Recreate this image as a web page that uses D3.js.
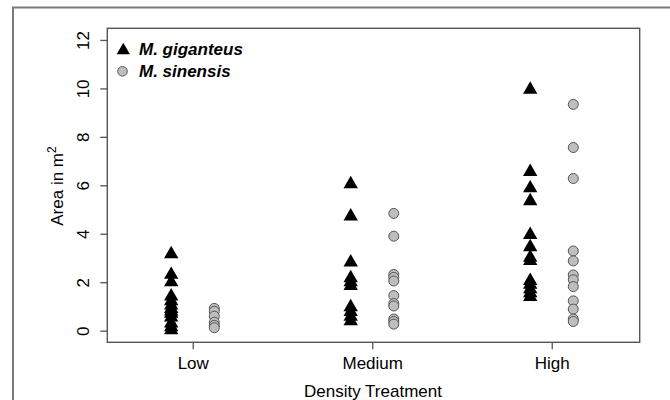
<!DOCTYPE html>
<html>
<head>
<meta charset="utf-8">
<script src="https://cdnjs.cloudflare.com/ajax/libs/d3/7.8.5/d3.min.js"></script>
<style>
  body { margin: 0; background: #fff; }
  text { font-family: "Liberation Sans", Arial, sans-serif; }
</style>
</head>
<body>
<script>
// categories and values
var categories = ["Low", "Medium", "High"];
var yTicks = [0, 2, 4, 6, 8, 10, 12];

var gigLow = [3.16, 2.31, 2.0, 1.42, 1.22, 1.05, 0.9, 0.8, 0.7, 0.55, 0.3, 0.15, 0.02];
var gigMedium = [6.05, 4.72, 2.82, 2.17, 2.0, 1.85, 0.97, 0.78, 0.58, 0.4];
var gigHigh = [9.95, 6.56, 5.88, 5.35, 3.96, 3.45, 3.02, 2.88, 2.06, 1.9, 1.72, 1.55, 1.4];

var sinLow = [0.92, 0.8, 0.6, 0.35, 0.22, 0.12];
var sinMedium = [4.84, 3.9, 2.32, 2.2, 2.05, 1.45, 1.12, 1.02, 0.48, 0.38, 0.27];
var sinHigh = [9.34, 7.56, 6.28, 3.29, 2.88, 2.3, 2.1, 1.82, 1.23, 0.89, 0.48, 0.38];

var width = 670, height = 400;
var plotLeft = 107.3, plotRight = 639.7, plotTop = 28.3, plotBottom = 342.3;
var axisCol = "#555";

var svg = d3.select("body").append("svg")
    .attr("width", width)
    .attr("height", height);

svg.append("rect").attr("width", width).attr("height", height).attr("fill", "#fff");

// outer frame (only left and top edges show)
svg.append("path")
    .attr("d", "M13," + height + "V7.5H" + width)
    .attr("fill", "none")
    .attr("stroke", "#7a7a7a")
    .attr("stroke-width", 2);

var x = d3.scaleLinear().domain([0.524, 3.49]).range([plotLeft, plotRight]);
var y = d3.scaleLinear().domain([-0.48, 12.48]).range([plotBottom, plotTop]);

// R style filled triangle (pch 17), circumcentre on the point
function triangle(r) {
    var xc = r * Math.sqrt(3) / 2, yc = r / 2;
    return "M0," + (-r) + "L" + xc + "," + yc + "L" + (-xc) + "," + yc + "Z";
}

// axes
var yAxis = svg.append("g")
    .attr("transform", "translate(" + plotLeft + ",0)")
    .call(d3.axisLeft(y).tickValues(yTicks).tickSize(7).tickSizeOuter(0));
yAxis.selectAll("text")
    .attr("transform", "rotate(-90)")
    .attr("x", 0)
    .attr("y", -18)
    .attr("dy", 0)
    .attr("text-anchor", "middle")
    .style("font-size", "17px")
    .attr("fill", "#000");

var xAxis = svg.append("g")
    .attr("transform", "translate(0," + plotBottom + ")")
    .call(d3.axisBottom(x).tickValues([1, 2, 3]).tickFormat(function(d) { return categories[d - 1]; })
        .tickSize(7).tickSizeOuter(0));
xAxis.selectAll("text")
    .attr("y", 26.7)
    .attr("dy", 0)
    .style("font-size", "17px")
    .attr("fill", "#000");

svg.selectAll(".domain").remove();
svg.selectAll(".tick line").attr("stroke", axisCol).attr("stroke-width", 1.3);

// plot box
svg.append("rect")
    .attr("x", plotLeft).attr("y", plotTop)
    .attr("width", plotRight - plotLeft).attr("height", plotBottom - plotTop)
    .attr("fill", "none")
    .attr("stroke", axisCol)
    .attr("stroke-width", 1.4);

// points
var gig = [gigLow, gigMedium, gigHigh];
var sin = [sinLow, sinMedium, sinHigh];
var offset = 0.12;

gig.forEach(function(vals, i) {
    svg.append("g").selectAll("path")
        .data(vals)
        .enter()
        .append("path")
        .attr("d", triangle(8.3))
        .attr("transform", function(d) { return "translate(" + x(i + 1 - offset) + "," + y(d) + ")"; })
        .attr("fill", "#000");
});

sin.forEach(function(vals, i) {
    svg.append("g").selectAll("circle")
        .data(vals)
        .enter()
        .append("circle")
        .attr("cx", x(i + 1 + offset))
        .attr("cy", function(d) { return y(d); })
        .attr("r", 5)
        .attr("fill", "#bebebe")
        .attr("stroke", "#555")
        .attr("stroke-width", 1);
});

// legend
svg.append("path")
    .attr("d", triangle(7.7))
    .attr("transform", "translate(123.3,50.4)")
    .attr("fill", "#000");
svg.append("circle")
    .attr("cx", 122.5).attr("cy", 71.3).attr("r", 4.8)
    .attr("fill", "#bebebe").attr("stroke", "#555");

svg.append("text").attr("x", 139).attr("y", 55)
    .style("font-size", "17px").style("font-weight", "bold").style("font-style", "italic")
    .text("M. giganteus");
svg.append("text").attr("x", 139).attr("y", 77.3)
    .style("font-size", "17px").style("font-weight", "bold").style("font-style", "italic")
    .text("M. sinensis");

// axis titles
svg.append("text")
    .attr("x", 373).attr("y", 397)
    .attr("text-anchor", "middle")
    .style("font-size", "17px")
    .text("Density Treatment");

var ylab = svg.append("text")
    .attr("transform", "translate(63,186) rotate(-90)")
    .attr("text-anchor", "middle")
    .style("font-size", "17px");
ylab.append("tspan").text("Area in m");
ylab.append("tspan").attr("dy", -7).style("font-size", "12px").text("2");
</script>
</body>
</html>
